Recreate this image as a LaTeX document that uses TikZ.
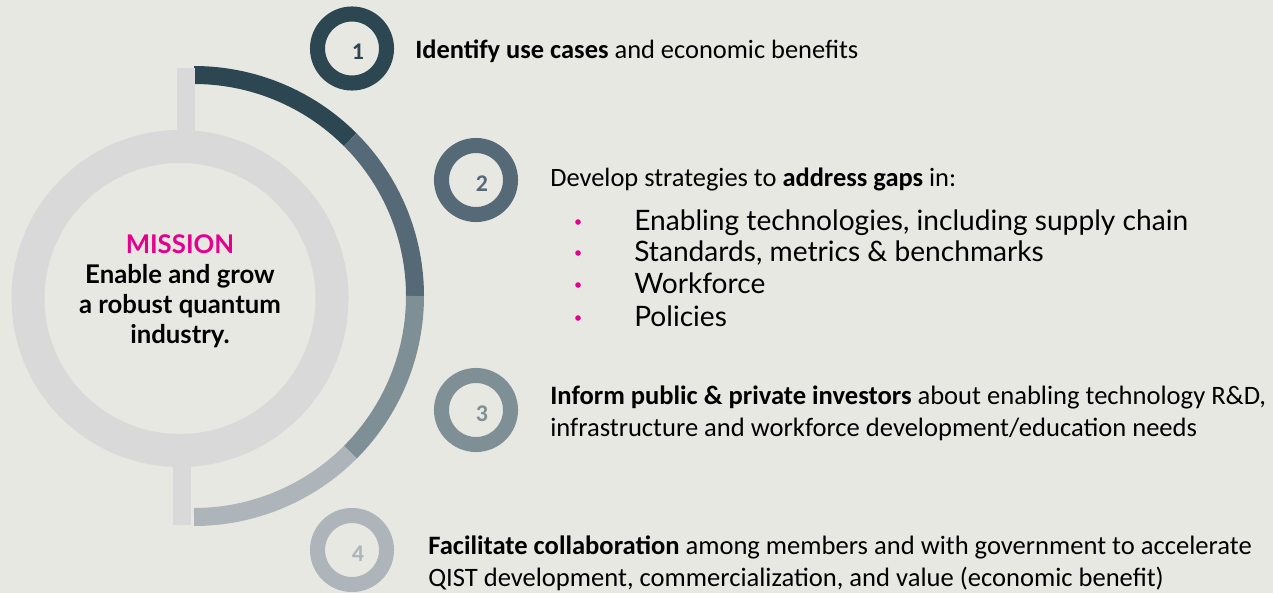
\documentclass[tikz,border=0pt]{standalone}
\usepackage{fontspec}
\setmainfont{Carlito}
\newfontfamily\latofont{Lato}
\usetikzlibrary{calc}

\definecolor{bggray}{RGB}{232,232,227}
\definecolor{ringgray}{RGB}{217,217,217}
\definecolor{stepa}{RGB}{44,70,82}
\definecolor{stepb}{RGB}{85,106,118}
\definecolor{stepc}{RGB}{127,143,150}
\definecolor{stepd}{RGB}{173,181,186}
\definecolor{missionpink}{RGB}{228,0,140}

\begin{document}
\begin{tikzpicture}[x=0.025cm,y=-0.025cm,
    numring/.style 2 args={circle,draw=#1,line width=10.7pt,minimum size=1.725cm,inner sep=0pt,
      label={[text=#1,font=\bfseries\fontsize{17}{17}\selectfont,xshift=4.3pt,yshift=-2.5pt]center:#2}},
    item/.style={anchor=base west,inner xsep=0pt,font=\fontsize{18.8}{22.8}\selectfont},
    itemtwo/.style={anchor=west,inner xsep=0pt,align=left,font=\fontsize{18.9}{22.6}\selectfont},
    gapitem/.style={anchor=base west,inner xsep=0pt,font=\latofont\fontsize{20}{21}\selectfont},
    pinkdot/.style={circle,fill=missionpink,inner sep=0pt,minimum size=0.14cm}]
        \fill[bggray] (0,0) rectangle (1273,593);
        \useasboundingbox (0,0) rectangle (1273,593);
        % mission ring
        \draw[ringgray,line width=23.5pt] (180,298.5) circle[radius=152];
        % outer arc, four parts
        \draw[stepa,line width=12.8pt] (194,75) arc[start angle=-90,end angle=-45,radius=221];
        \draw[stepb,line width=12.8pt] (194,296) ++(-45:221) arc[start angle=-45,end angle=0,radius=221];
        \draw[stepc,line width=12.8pt] (194,296) ++(0:221) arc[start angle=0,end angle=45,radius=221];
        \draw[stepd,line width=12.8pt] (194,296) ++(45:221) arc[start angle=45,end angle=90,radius=221];
        \draw[ringgray,line width=12.8pt] (186,68)--(186,140);
        \draw[ringgray,line width=12.8pt] (182,458)--(182,525);
        \node[align=center,font=\latofont\bfseries\fontsize{18.3}{21.3}\selectfont] (mission) at (180,291)
          {\textcolor{missionpink}{MISSION}\\Enable and grow\\a robust quantum\\industry.};
        % steps
        \node[numring={stepa}{1}] (n1) at (352,48.5) {};
        \node[numring={stepb}{2}] (n2) at (476,180) {};
        \node[numring={stepc}{3}] (n3) at (476,410) {};
        \node[numring={stepd}{4}] (n4) at (352,550) {};
        \node[item] (t1) at (415,58) {\textbf{Identify use cases} and economic benefits};
        \node[item] (t2) at (550,186) {Develop strategies to \textbf{address gaps} in:};
        \node[pinkdot] (d1) at (578,222) {};
        \node[pinkdot] (d2) at (578,253) {};
        \node[pinkdot] (d3) at (578,285) {};
        \node[pinkdot] (d4) at (578,318) {};
        \node[gapitem] (g1) at (634,230) {Enabling technologies, including supply chain};
        \node[gapitem] (g2) at (634,261) {Standards, metrics \& benchmarks};
        \node[gapitem] (g3) at (634,293) {Workforce};
        \node[gapitem] (g4) at (634,326) {Policies};
        \node[itemtwo] (t3) at (550,413) {\textbf{Inform public \& private investors} about enabling technology R\&D,\\
          infrastructure and workforce development/education needs};
        \node[itemtwo] (t4) at (428,563) {\textbf{Facilitate collaboration} among members and with government to accelerate\\
          QIST development, commercialization, and value (economic benefit)};
\end{tikzpicture}
\end{document}
